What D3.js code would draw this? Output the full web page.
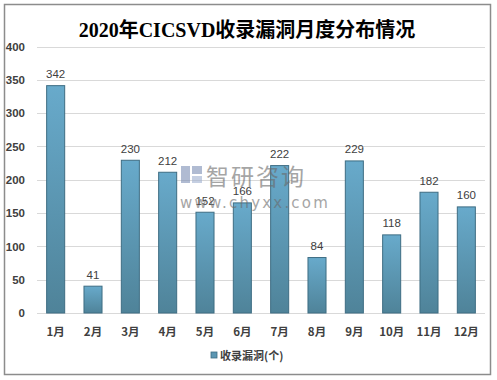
<!DOCTYPE html>
<html><head><meta charset="utf-8">
<script src="https://cdn.jsdelivr.net/npm/d3@7/dist/d3.min.js"></script>
<style>body{margin:0;background:#fff}svg{display:block}</style>
</head><body>
<script>
const months = ["1月","2月","3月","4月","5月","6月","7月","8月","9月","10月","11月","12月"];
const counts = [342, 41, 230, 212, 152, 166, 222, 84, 229, 118, 182, 160];
const yTicks = [0, 50, 100, 150, 200, 250, 300, 350, 400];
const seriesName = "收录漏洞(个)";
const titleText = "2020年CICSVD收录漏洞月度分布情况";

const W = 497, H = 380;
const svg = d3.select("body").append("svg").attr("width", W).attr("height", H);
const defs = svg.append("defs");
const g1 = defs.append("linearGradient").attr("id","barGrad").attr("x1",0).attr("y1",0).attr("x2",0).attr("y2",1);
g1.append("stop").attr("offset","0%").attr("stop-color","#68aacb");
g1.append("stop").attr("offset","100%").attr("stop-color","#4f8399");

svg.append("rect").attr("x",4.5).attr("y",4.5).attr("width",486).attr("height",370)
  .attr("fill","#fff").attr("stroke","#8c8c8c").attr("stroke-width",1.5);

svg.append("text").attr("x",247).attr("y",37).attr("text-anchor","middle")
  .attr("font-family","'Liberation Serif','Noto Sans CJK SC',serif").attr("font-weight","bold")
  .attr("font-size",20).attr("fill","#000").text(titleText);

const x = d3.scaleBand().domain(months).range([37, 485]).paddingInner(0.49).paddingOuter(0.245);
const y = d3.scaleLinear().domain([0, 400]).range([313, 46.5]);

svg.append("g").selectAll("line").data(yTicks).join("line")
  .attr("x1",37).attr("x2",485).attr("y1",d=>Math.round(y(d))+0.5).attr("y2",d=>Math.round(y(d))+0.5)
  .attr("stroke","#d9d9d9").attr("stroke-width",1);

const yAxis = d3.axisLeft(y).tickValues(yTicks).tickSize(0).tickPadding(0);
const ya = svg.append("g").attr("transform","translate(25,0)").call(yAxis);
ya.select(".domain").remove();
ya.selectAll("text").attr("font-family","'Liberation Sans','Noto Sans CJK SC',sans-serif")
  .attr("font-size",11.5).attr("font-weight","bold").attr("fill","#404040");

svg.append("g").selectAll("rect").data(counts).join("rect")
  .attr("x",(d,i)=>x(months[i])+0.5).attr("y",d=>y(d)+0.5)
  .attr("width",x.bandwidth()-1).attr("height",d=>y(0)-y(d)-0.5)
  .attr("fill","url(#barGrad)").attr("stroke","#3e6d83").attr("stroke-width",1);

svg.append("g").selectAll("text").data(counts).join("text")
  .attr("x",(d,i)=>x(months[i])+x.bandwidth()/2).attr("y",d=>y(d)-7)
  .attr("text-anchor","middle").attr("font-family","'Liberation Sans','Noto Sans CJK SC',sans-serif")
  .attr("font-size",11.5).attr("fill","#404040").text(d=>d);

const xAxis = d3.axisBottom(x).tickSize(0).tickPadding(0);
const xa = svg.append("g").attr("transform","translate(0,328)").call(xAxis);
xa.select(".domain").remove();
xa.selectAll("text").attr("font-family","'Noto Sans CJK SC',sans-serif")
  .attr("font-size",11.5).attr("font-weight","bold").attr("fill","#404040");

svg.append("rect").attr("x",211).attr("y",352).attr("width",6).attr("height",6)
  .attr("fill","#5b96b2").attr("stroke","#3e6d83").attr("stroke-width",0.8);
svg.append("text").attr("x",220).attr("y",359.5).attr("font-family","'Noto Sans CJK SC',sans-serif")
  .attr("font-size",11).attr("font-weight","bold").attr("fill","#404040").text(seriesName);

// watermark (drawn on top, as in the reference)
const wm = svg.append("g").attr("opacity",0.6);
wm.append("rect").attr("x",181).attr("y",166).attr("width",9).attr("height",17).attr("fill","#7d8fb5");
wm.append("rect").attr("x",192).attr("y",166).attr("width",10).attr("height",8).attr("fill","#7d8fb5");
wm.append("rect").attr("x",192).attr("y",176).attr("width",10).attr("height",7).attr("fill","#9fb0d0");
wm.append("text").attr("x",206).attr("y",185).attr("font-family","'Noto Sans CJK SC',sans-serif")
  .attr("font-size",23).attr("fill","#6a6a6a").attr("letter-spacing",2).text("智研咨询");
wm.append("text").attr("x",180).attr("y",208).attr("font-family","'DejaVu Sans',sans-serif")
  .attr("font-size",15).attr("fill","#6a6a6a").attr("letter-spacing",2.2).text("www.chyxx.com");
</script>
</body></html>
